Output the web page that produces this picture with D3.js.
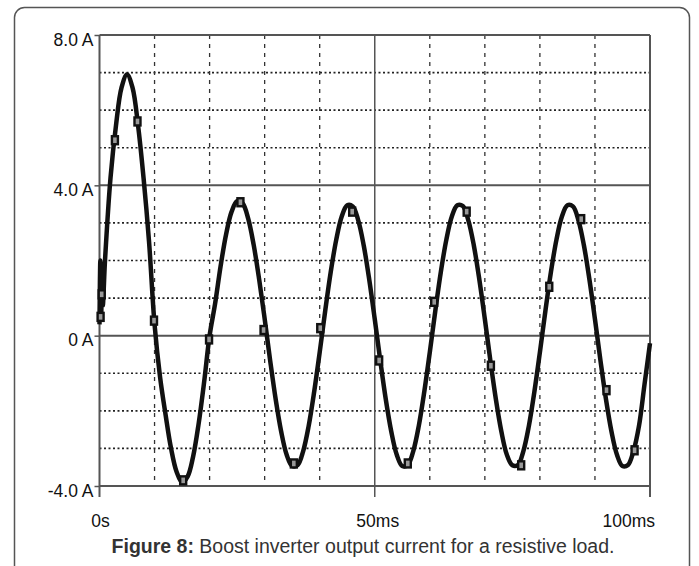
<!DOCTYPE html>
<html>
<head>
<meta charset="utf-8">
<title>Boost inverter output current</title>
<script src="https://cdn.jsdelivr.net/npm/d3@7"></script>
<style>
  body { margin: 0; background: #fff; }
  text { font-family: "Liberation Sans", Arial, sans-serif; }
</style>
</head>
<body>
<div id="chart"></div>
<script>
// values (time in ms, current in A)
const timeMs = [0, 0.15, 0.3, 0.45, 0.6, 1, 2, 3, 4, 5, 6, 7, 8, 9, 10,
  11, 12, 13, 14, 15, 16, 17, 18, 19, 20,
  21, 22, 23, 24, 25, 26, 27, 28, 29, 30,
  31, 32, 33, 34, 35, 36, 37, 38, 39, 40,
  41, 42, 43, 44, 45, 46, 47, 48, 49, 50,
  51, 52, 53, 54, 55, 56, 57, 58, 59, 60,
  61, 62, 63, 64, 65, 66, 67, 68, 69, 70,
  71, 72, 73, 74, 75, 76, 77, 78, 79, 80,
  81, 82, 83, 84, 85, 86, 87, 88, 89, 90,
  91, 92, 93, 94, 95, 96, 97, 98, 99, 100];
const currentA = [0.3, 2.0, 0.5, 1.6, 0.8, 2.0, 4.2, 5.6, 6.6, 6.95, 6.6, 5.6, 4.2, 2.5, 0.3,
  -1.1, -2.1, -3.0, -3.62, -3.9, -3.75, -3.22, -2.35, -1.24, 0.0,
  0.85, 1.85, 2.7, 3.3, 3.58, 3.52, 3.12, 2.42, 1.5, 0.45,
  -0.66, -1.69, -2.55, -3.17, -3.47, -3.44, -3.07, -2.4, -1.49, -0.44,
  0.66, 1.69, 2.55, 3.17, 3.47, 3.44, 3.07, 2.4, 1.49, 0.44,
  -0.66, -1.69, -2.55, -3.17, -3.47, -3.44, -3.07, -2.4, -1.49, -0.44,
  0.66, 1.69, 2.55, 3.17, 3.47, 3.45, 3.07, 2.4, 1.49, 0.44,
  -0.66, -1.69, -2.55, -3.17, -3.45, -3.44, -3.07, -2.4, -1.49, -0.44,
  0.66, 1.69, 2.55, 3.17, 3.47, 3.44, 3.07, 2.4, 1.49, 0.44,
  -0.66, -1.69, -2.55, -3.17, -3.47, -3.44, -3.07, -2.4, -1.3, -0.2];

// square markers on the trace
const markerT = [0.2, 0.4, 2.8, 6.9, 9.9, 15.2, 19.9, 25.6, 29.8, 35.3, 40.1, 45.9,
  50.8, 56, 60.8, 66.7, 71.1, 76.6, 81.7, 87.5, 92.1, 97.2];
const markerV = [0.5, 1.1, 5.2, 5.7, 0.4, -3.85, -0.1, 3.55, 0.15, -3.4, 0.2, 3.3,
  -0.66, -3.4, 0.9, 3.3, -0.8, -3.45, 1.3, 3.1, -1.45, -3.05];

const yMajor = [8, 4, 0, -4];
const yLabels = ["8.0 A", "4.0 A", "0 A", "-4.0 A"];
const yMinor = [7, 6, 5, 3, 2, 1, -1, -2, -3];
const xMajor = [0, 50, 100];
const xLabels = ["0s", "50ms", "100ms"];
const xMinor = [10, 20, 30, 40, 60, 70, 80, 90];

const W = 699, H = 566;
const svg = d3.select("#chart").append("svg")
    .attr("width", W).attr("height", H);

// card frame
svg.append("rect")
    .attr("x", 14.5).attr("y", 7.5)
    .attr("width", 675).attr("height", 600)
    .attr("rx", 10)
    .attr("fill", "none").attr("stroke", "#555").attr("stroke-width", 1.5);

const x = d3.scaleLinear().domain([0, 100]).range([99.5, 650]);
const y = d3.scaleLinear().domain([-4, 8]).range([486, 35]);

// dotted horizontal grid
svg.append("g").selectAll("line").data(yMinor).enter().append("line")
    .attr("x1", x(0)).attr("x2", x(100))
    .attr("y1", d => y(d)).attr("y2", d => y(d))
    .attr("stroke", "#222").attr("stroke-width", 1.6)
    .attr("stroke-dasharray", "2,2.5");

// dashed vertical grid
svg.append("g").selectAll("line").data(xMinor).enter().append("line")
    .attr("x1", d => x(d)).attr("x2", d => x(d))
    .attr("y1", y(8)).attr("y2", y(-4))
    .attr("stroke", "#333").attr("stroke-width", 1.3)
    .attr("stroke-dasharray", "4,5");

// solid lines
svg.append("g").selectAll("line").data(yMajor).enter().append("line")
    .attr("x1", x(0)).attr("x2", x(100))
    .attr("y1", d => y(d)).attr("y2", d => y(d))
    .attr("stroke", "#555").attr("stroke-width", 2);
svg.append("g").selectAll("line").data(xMajor).enter().append("line")
    .attr("x1", d => x(d)).attr("x2", d => x(d))
    .attr("y1", y(8)).attr("y2", y(-4) + 11)
    .attr("stroke", "#555").attr("stroke-width", d => d == 50 ? 1.5 : 2);

// y axis ticks + labels
const yAxis = d3.axisLeft(y).tickValues(yMajor).tickSize(5).tickPadding(1)
    .tickFormat((d, i) => yLabels[i]);
const gy = svg.append("g").attr("transform", "translate(" + x(0) + ",0)").call(yAxis);
gy.select(".domain").remove();
gy.selectAll("line").attr("stroke", "#555").attr("stroke-width", 1.5);
gy.selectAll("text").attr("font-size", 17.5).attr("fill", "#111").attr("dy", "0.58em")
    .attr("font-family", "Liberation Sans, Arial, sans-serif");

// x labels
svg.append("g").selectAll("text").data(xMajor).enter().append("text")
    .attr("x", (d, i) => i == 2 ? 655 : x(d) + (i == 1 ? 3 : 1))
    .attr("y", 527)
    .attr("text-anchor", (d, i) => i == 2 ? "end" : "middle")
    .attr("font-size", 17.5).attr("fill", "#111")
    .text((d, i) => xLabels[i]);

// trace
const line = d3.line()
    .x((d, i) => x(timeMs[i]))
    .y(d => y(d))
    .curve(d3.curveCatmullRom);
svg.append("path")
    .datum(currentA)
    .attr("d", line)
    .attr("fill", "none")
    .attr("stroke", "#111")
    .attr("stroke-width", 4.5)
    .attr("stroke-linejoin", "round");

svg.append("g").selectAll("rect").data(markerT).enter().append("rect")
    .attr("x", d => x(d) - 3)
    .attr("y", (d, i) => y(markerV[i]) - 4)
    .attr("width", 6).attr("height", 8)
    .attr("fill", "#999").attr("stroke", "#111").attr("stroke-width", 2.4);

// caption
const cap = svg.append("text")
    .attr("x", 363).attr("y", 553)
    .attr("text-anchor", "middle")
    .attr("font-size", 19.5).attr("fill", "#333");
cap.append("tspan").attr("font-weight", "bold").text("Figure 8:");
cap.append("tspan").text(" Boost inverter output current for a resistive load.");
</script>
</body>
</html>
